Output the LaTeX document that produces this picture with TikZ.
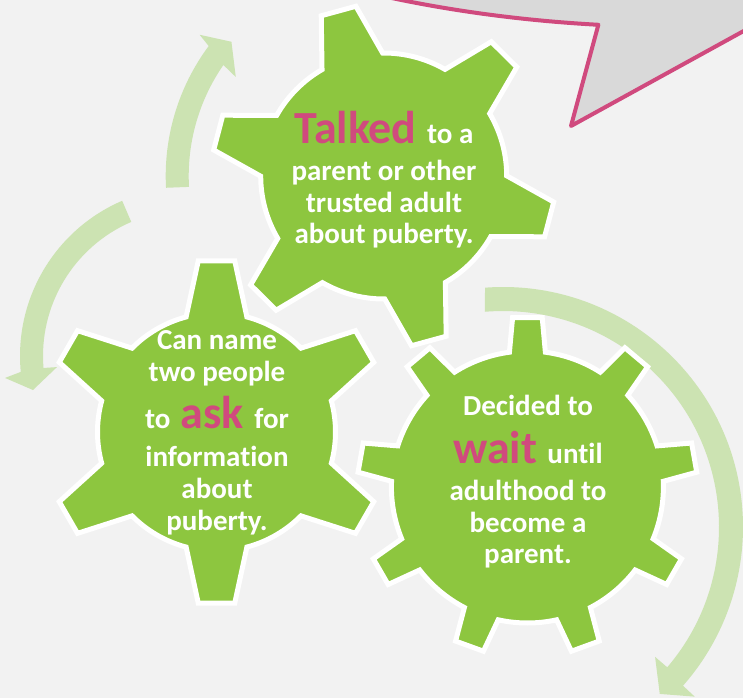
\documentclass[tikz,border=0pt]{standalone}
\usepackage{fontspec}
\setmainfont{Carlito}[Ligatures=NoCommon]
\definecolor{bgc}{HTML}{F2F2F2}
\definecolor{gearg}{HTML}{8DC63F}
\definecolor{arrowg}{HTML}{CCE3B2}
\definecolor{hlc}{HTML}{D04A7E}
\definecolor{callg}{HTML}{D9D9D9}
\tikzset{
  gearshape/.style={fill=gearg, draw=white, line width=5pt, line join=miter},
  cyclearrow/.style={fill=arrowg, draw=none},
  calloutshape/.style={fill=callg, draw=hlc, line width=4pt, line join=round},
  txt/.style={anchor=base, inner sep=0pt, text=white, font=\bfseries\fontsize{29}{31}\selectfont},
}
\newcommand{\bigw}[1]{{\fontsize{46}{46}\selectfont\color{hlc}#1}}
% #1 center, #2 teeth, #3 offset angle, #4 tip radius, #5 body radius, #6 tip half angle, #7 base half angle
\newcommand{\mygear}[7]{%
  \pgfmathsetmacro{\gstep}{360/#2}%
  \pgfmathtruncatemacro{\glast}{#2-1}%
  \draw[gearshape, shift={#1}] ({#3-#7}:#5pt)
    \foreach \k [evaluate=\k as \ga using {#3+\k*\gstep}] in {0,...,\glast} {
      -- ({\ga-#6}:#4pt) -- ({\ga+#6}:#4pt) -- ({\ga+#7}:#5pt)
      arc[start angle={\ga+#7}, end angle={\ga+\gstep-#7}, radius=#5pt]
    } -- cycle;%
}
\begin{document}
\begin{tikzpicture}[x=1pt,y=1pt]
\useasboundingbox (0,0) rectangle (743,-698);
\fill[bgc] (0,0) rectangle (743,-698);
\clip (0,0) rectangle (743,-698);

% callout (partly off the page)
\draw[calloutshape] (278.5,32.1) arc[start angle=235, end angle=263.3, x radius=700pt, y radius=327pt]
  -- (571,-126) -- (754.4,-25.1) arc[start angle=276.1, end angle=320, x radius=700pt, y radius=327pt]
  -- (1216,400) -- (278.5,400) -- cycle;

% gear centres
\coordinate (gc1) at (383.7,-176);
\coordinate (gc2) at (216.5,-432);
\coordinate (gc3) at (527.4,-487);
\coordinate (ac1) at (383.7,-176);
\coordinate (ac2) at (189,-356);
\coordinate (ac3) at (503,-527);

% cycle arrows
\fill[cyclearrow, shift={(ac1)}] (183.1:218pt) arc[start angle=183.1, end angle=143.4, radius=218pt]
  -- (142.5:232pt) -- (138.6:203pt) -- (146.2:178pt) -- (145.3:195pt)
  arc[start angle=145.3, end angle=183.2, radius=195pt] -- cycle;
\fill[cyclearrow, shift={(ac2)}] (113.3:169pt) arc[start angle=113.3, end angle=185.4, radius=169pt]
  -- (186.8:185.3pt) -- (192.3:159.7pt) -- (184.8:132.5pt) -- (184.7:146pt)
  arc[start angle=184.7, end angle=113.3, radius=146pt] -- cycle;
\fill[cyclearrow, shift={(ac3)}] (94.3:240pt) arc[start angle=94.3, end angle=-41.4, radius=240pt]
  -- (-41.5:256pt) -- (-46.8:229pt) -- (-40.5:200pt) -- (-40.5:216pt)
  arc[start angle=-40.5, end angle=94.8, radius=216pt] -- cycle;

% gears
\mygear{(gc3)}{9}{90}{170}{136}{5}{7.6}
\mygear{(gc1)}{6}{105.3}{172}{123}{6}{14.8}
\mygear{(gc2)}{6}{90}{172}{119}{6.1}{14.8}

% texts
\node[txt] (g1l1) at (384,-143) {\bigw{Talked\ }to a};
\node[txt] (g1l2) at (384,-180) {parent or other};
\node[txt] (g1l3) at (384,-212) {trusted adult};
\node[txt] (g1l4) at (384,-243) {about puberty.};

\node[txt] (g2l1) at (217,-349) {Can name};
\node[txt] (g2l2) at (217,-381) {two people};
\node[txt] (g2l3) at (217,-428) {to\bigw{\ ask\ }for};
\node[txt] (g2l4) at (217,-466) {information};
\node[txt] (g2l5) at (217,-498) {about};
\node[txt] (g2l6) at (217,-530) {puberty.};

\node[txt] (g3l1) at (528,-415) {Decided to};
\node[txt] (g3l2) at (528,-463) {\bigw{wait\ }until};
\node[txt] (g3l3) at (528,-500) {adulthood to};
\node[txt] (g3l4) at (528,-532) {become a};
\node[txt] (g3l5) at (528,-563) {parent.};
\end{tikzpicture}
\end{document}
